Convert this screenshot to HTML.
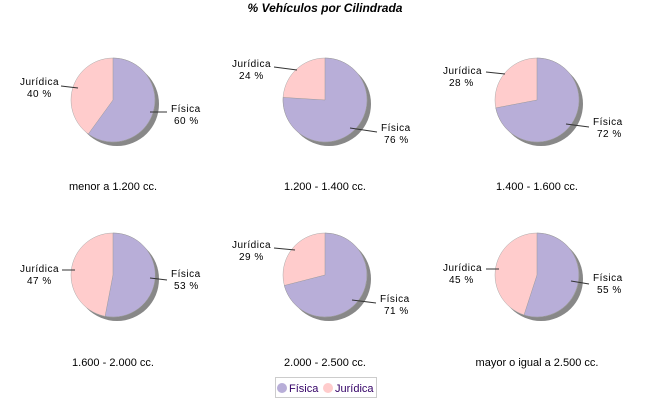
<!DOCTYPE html>
<html><head><meta charset="utf-8"><style>
body{margin:0;background:#fff}
svg text{font-family:"Liberation Sans",sans-serif}
</style></head><body>
<svg width="650" height="400" xmlns="http://www.w3.org/2000/svg">
<rect width="650" height="400" fill="#fff"/>
<text x="325" y="12" font-size="12" font-weight="bold" font-style="italic" text-anchor="middle">% Vehículos por Cilindrada</text>
<g font-size="10" fill="#000" letter-spacing="0.5">
<!-- pie1 -->
<circle cx="117" cy="104" r="42" fill="#888"/>
<circle cx="113" cy="100" r="42" fill="#FFCCCC" stroke="#aaa" stroke-width="0.5"/>
<path d="M113,100 L113,58 A42,42 0 1,1 88.3,134 Z" fill="#B8AED8" stroke="#999" stroke-width="0.5"/>
<line x1="61" y1="86" x2="78" y2="88" stroke="#333"/><line x1="150" y1="112" x2="167" y2="112" stroke="#333"/>
<text x="20" y="85">Jurídica</text><text x="27" y="97">40 %</text>
<text x="171" y="112">Física</text><text x="174" y="124">60 %</text>
<!-- pie2 -->
<circle cx="329" cy="104" r="42" fill="#888"/>
<circle cx="325" cy="100" r="42" fill="#FFCCCC" stroke="#aaa" stroke-width="0.5"/>
<path d="M325,100 L325,58 A42,42 0 1,1 283.1,97.4 Z" fill="#B8AED8" stroke="#999" stroke-width="0.5"/>
<line x1="274" y1="67" x2="297" y2="70" stroke="#333"/><line x1="350" y1="128" x2="377" y2="132" stroke="#333"/>
<text x="232" y="67">Jurídica</text><text x="239" y="79">24 %</text>
<text x="381" y="131">Física</text><text x="384" y="143">76 %</text>
<!-- pie3 -->
<circle cx="541" cy="104" r="42" fill="#888"/>
<circle cx="537" cy="100" r="42" fill="#FFCCCC" stroke="#aaa" stroke-width="0.5"/>
<path d="M537,100 L537,58 A42,42 0 1,1 495.8,107.9 Z" fill="#B8AED8" stroke="#999" stroke-width="0.5"/>
<line x1="486" y1="72" x2="505" y2="74" stroke="#333"/><line x1="566" y1="124" x2="589" y2="127" stroke="#333"/>
<text x="443" y="74">Jurídica</text><text x="449" y="86">28 %</text>
<text x="593" y="125">Física</text><text x="597" y="137">72 %</text>
<!-- pie4 -->
<circle cx="117" cy="279" r="42" fill="#888"/>
<circle cx="113" cy="275" r="42" fill="#FFCCCC" stroke="#aaa" stroke-width="0.5"/>
<path d="M113,275 L113,233 A42,42 0 1,1 105.1,316.2 Z" fill="#B8AED8" stroke="#999" stroke-width="0.5"/>
<line x1="62" y1="270" x2="75" y2="270" stroke="#333"/><line x1="150" y1="278" x2="167" y2="280" stroke="#333"/>
<text x="20" y="272">Jurídica</text><text x="27" y="284">47 %</text>
<text x="171" y="277">Física</text><text x="174" y="289">53 %</text>
<!-- pie5 -->
<circle cx="329" cy="279" r="42" fill="#888"/>
<circle cx="325" cy="275" r="42" fill="#FFCCCC" stroke="#aaa" stroke-width="0.5"/>
<path d="M325,275 L325,233 A42,42 0 1,1 284.3,285.5 Z" fill="#B8AED8" stroke="#999" stroke-width="0.5"/>
<line x1="274" y1="248" x2="295" y2="250" stroke="#333"/><line x1="352" y1="300" x2="376" y2="303" stroke="#333"/>
<text x="232" y="248">Jurídica</text><text x="239" y="260">29 %</text>
<text x="380" y="302">Física</text><text x="384" y="314">71 %</text>
<!-- pie6 -->
<circle cx="541" cy="279" r="42" fill="#888"/>
<circle cx="537" cy="275" r="42" fill="#FFCCCC" stroke="#aaa" stroke-width="0.5"/>
<path d="M537,275 L537,233 A42,42 0 1,1 524,315 Z" fill="#B8AED8" stroke="#999" stroke-width="0.5"/>
<line x1="486" y1="269" x2="499" y2="269" stroke="#333"/><line x1="571" y1="281" x2="589" y2="284" stroke="#333"/>
<text x="443" y="271">Jurídica</text><text x="449" y="283">45 %</text>
<text x="593" y="281">Física</text><text x="597" y="293">55 %</text>
</g>
<g font-size="11" text-anchor="middle" fill="#000">
<text x="113" y="190">menor a 1.200 cc.</text>
<text x="325" y="190">1.200 - 1.400 cc.</text>
<text x="537" y="190">1.400 - 1.600 cc.</text>
<text x="113" y="366">1.600 - 2.000 cc.</text>
<text x="325" y="366">2.000 - 2.500 cc.</text>
<text x="537" y="366">mayor o igual a 2.500 cc.</text>
</g>
<rect x="275.5" y="377.5" width="101" height="20" fill="#fff" stroke="#ccc"/>
<circle cx="282" cy="388" r="5" fill="#B8AED8"/>
<text x="289" y="392" font-size="11" fill="#330066">Física</text>
<circle cx="328" cy="388" r="5" fill="#FFCCCC"/>
<text x="335" y="392" font-size="11" fill="#330066">Jurídica</text>
</svg>
</body></html>
